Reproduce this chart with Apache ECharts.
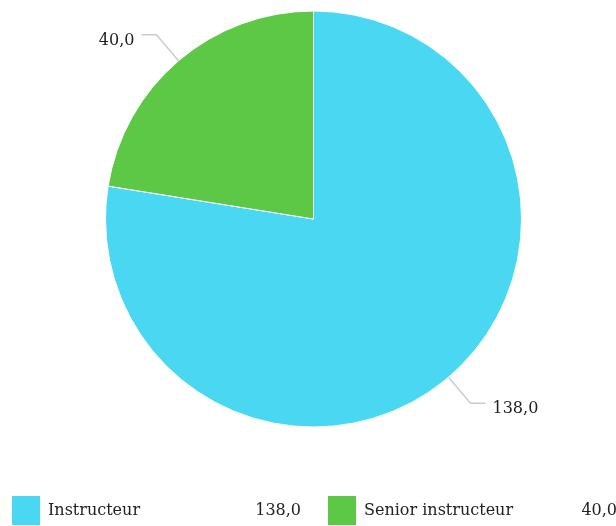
<!DOCTYPE html>
<html>
<head>
<meta charset="utf-8">
<style>
  html, body { margin: 0; padding: 0; background: #fff; }
  #chart { width: 616px; height: 526px; }
</style>
<script src="https://cdn.jsdelivr.net/npm/echarts@6/dist/echarts.min.js"></script>
</head>
<body>
<div id="chart"></div>
<script>
const categories = ['Instructeur', 'Senior instructeur']
const values = [138, 40]
const colors = ['#4ad7f1', '#5cc846']

const fmt = v => v.toFixed(1).replace('.', ',')
const font = "'DejaVu Serif', serif"

const myChart = echarts.init(document.getElementById('chart'))
const option = {
  color: colors,
  animation: false,
  legend: {
    orient: 'horizontal',
    bottom: 1,
    left: 12,
    width: 610,
    padding: 0,
    itemWidth: 28,
    itemHeight: 29,
    itemGap: 27,
    icon: 'rect',
    itemStyle: { borderWidth: 0 },
    textStyle: {
      fontFamily: font,
      fontSize: 16,
      color: '#222',
      rich: {
        n: { width: 205, padding: [0, 0, 0, 3], fontFamily: font, fontSize: 16, color: '#222' },
        v: { width: 48, align: 'right', fontFamily: font, fontSize: 16, color: '#222' }
      }
    },
    formatter: name => {
      const i = categories.indexOf(name)
      return '{n|' + name + '}{v|' + fmt(values[i]) + '}'
    }
  },
  series: [
    {
      type: 'pie',
      center: [313.5, 219],
      radius: 208,
      startAngle: 90,
      clockwise: true,
      itemStyle: { borderColor: '#fff', borderWidth: 1 },
      label: {
        formatter: p => '{a|' + fmt(p.value) + '}',
        distanceToLabelLine: 7,
        rich: {
          a: { fontFamily: font, fontSize: 16, color: '#222', padding: [12, 0, 0, 0] }
        }
      },
      labelLine: {
        length: 34,
        length2: 15,
        lineStyle: { color: '#ccc', width: 1.5 }
      },
      data: categories.map((c, i) => ({ name: c, value: values[i] }))
    }
  ]
}
myChart.setOption(option, true)
</script>
</body>
</html>
